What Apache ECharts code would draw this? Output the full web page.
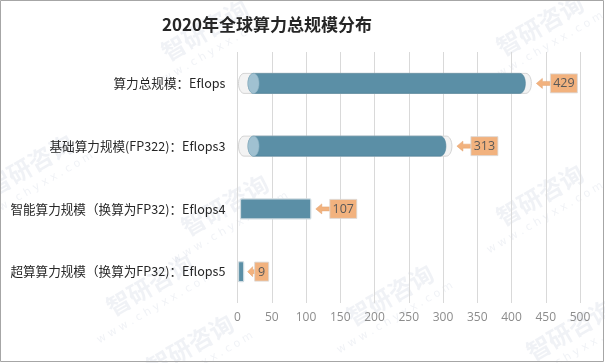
<!DOCTYPE html>
<html><head><meta charset="utf-8">
<script src="https://cdn.jsdelivr.net/npm/echarts@6/dist/echarts.min.js"></script>
<style>html,body{margin:0;padding:0;background:#fff}#c{width:605px;height:363px}</style>
</head><body><div id="c"></div>
<script>
const categories = ['算力总规模：Eflops', '基础算力规模(FP322)：Eflops3', '智能算力规模（换算为FP32)：Eflops4', '超算算力规模（换算为FP32)：Eflops5'];
const values = [429, 313, 107, 9];
const cylinderFlags = [true, true, false, false];
const xTicks = { min: 0, max: 500, interval: 50 };

function ellPts(cx, cy, rx, ry, a0, a1, n) {
  const pts = [];
  for (let i = 0; i <= n; i++) {
    const a = a0 + (a1 - a0) * i / n;
    pts.push([cx + rx * Math.cos(a), cy + ry * Math.sin(a)]);
  }
  return pts;
}
function cylPts(xa, xb, cy, rx, ry) {
  let pts = [];
  pts = pts.concat(ellPts(xb, cy, rx, ry, -Math.PI / 2, Math.PI / 2, 16));
  pts = pts.concat(ellPts(xa, cy, rx, ry, Math.PI / 2, Math.PI * 1.5, 16));
  return pts;
}

function renderItem(params, api) {
  const idx = api.value(0);
  const val = api.value(1);
  const p0 = api.coord([0, idx]);
  const p1 = api.coord([val, idx]);
  const x0 = p0[0], x1 = p1[0], cy = p0[1];
  const h = 20, ry = h / 2;
  const children = [];
  if (cylinderFlags[idx]) {
    const rx = 5.5;
    children.push({ type: 'polygon', shape: { points: cylPts(x0 + 1 + rx, x1 - rx, cy, rx, ry) },
      style: { fill: '#f3f3f3', stroke: '#d4d4d4', lineWidth: 1 } });
    const capX = x0 + 16;
    children.push({ type: 'polygon', shape: { points: cylPts(capX, x1 - 6 - rx, cy, rx, ry) },
      style: { fill: '#5b8fa6', stroke: '#4f8299', lineWidth: 0.6 } });
    children.push({ type: 'polygon', shape: { points: ellPts(capX, cy, rx, ry, 0, Math.PI * 2, 32) },
      style: { fill: '#a0c1d1', stroke: '#8fb3c4', lineWidth: 0.6 } });
  } else {
    children.push({ type: 'rect', shape: { x: x0 + (idx === 2 ? 3 : 1), y: cy - ry, width: x1 - x0 - (idx === 2 ? 3 : 1), height: h, r: 1 },
      style: { fill: '#5b8fa6', stroke: '#cfdbe1', lineWidth: 1.2 } });
  }
  const txt = String(val);
  const boxW = txt.length * 6.5 + 7.5;
  const arrowLen = Math.round(boxW * 0.52);
  const tip = x1 + (txt.length > 1 ? 5 : 4);
  const bx = tip + arrowLen;
  const headL = Math.min(6, arrowLen - 2);
  children.push({ type: 'polygon', shape: { points: [
      [tip, cy], [tip + headL, cy - 5], [tip + headL, cy - 2], [bx, cy - 2], [bx, cy + 2], [tip + headL, cy + 2], [tip + headL, cy + 5]] },
    style: { fill: '#f2b27e', stroke: '#e3a06c', lineWidth: 0.5 } });
  children.push({ type: 'rect', shape: { x: bx, y: cy - 9.5, width: boxW, height: 19 },
    style: { fill: '#f2b27e', stroke: '#d9d9d9', lineWidth: 0.8 } });
  children.push({ type: 'text', style: { x: bx + boxW / 2, y: cy + 0.5, text: txt, fill: '#595959',
    font: '12.5px "Open Sans", "Noto Sans", sans-serif', align: 'center', verticalAlign: 'middle' } });
  return { type: 'group', children };
}

const wm = [];
const wmPos = [[205, 30], [540, 25], [30, 165], [225, 205], [540, 195], [150, 285], [390, 295], [190, 345], [570, 330]];
wmPos.forEach(p => {
  wm.push({ type: 'text', x: p[0], y: p[1], rotation: Math.PI / 6, z: 0, silent: true,
    style: { text: '智研咨询', fill: 'rgba(120,140,170,0.11)', font: 'bold 24px "Noto Sans CJK SC"', align: 'center', verticalAlign: 'middle' } });
  wm.push({ type: 'text', x: p[0] + 5, y: p[1] + 23, rotation: Math.PI / 6, z: 0, silent: true,
    style: { text: 'w w w . c h y x x . c o m', fill: 'rgba(120,140,170,0.11)', font: '11px "DejaVu Sans"', align: 'center', verticalAlign: 'middle' } });
});
wm.push({ type: 'rect', shape: { x: 0.5, y: 0.5, width: 603, height: 361 }, style: { fill: 'none', stroke: '#a6a6a6', lineWidth: 1 }, z: 10, silent: true });

const chart = echarts.init(document.getElementById('c'), null, { renderer: 'canvas' });
chart.setOption({
  animation: false,
  backgroundColor: '#fff',
  title: { text: '2020年全球算力总规模分布', left: 157, top: 11,
    textStyle: { fontFamily: '"Noto Sans CJK SC"', fontWeight: 'bold', fontSize: 17, color: '#262626' } },
  grid: { left: 237.5, right: 25, top: 52, bottom: 60, containLabel: false },
  xAxis: { type: 'value', min: xTicks.min, max: xTicks.max, interval: xTicks.interval,
    axisLine: { show: false }, axisTick: { show: false },
    splitLine: { lineStyle: { color: '#d9d9d9', width: 1 } },
    axisLabel: { color: '#8c8c8c', fontSize: 12, margin: 9, fontFamily: '"Open Sans", sans-serif' } },
  yAxis: { type: 'category', data: categories, inverse: true,
    axisLine: { show: false }, axisTick: { show: false },
    axisLabel: { color: '#262626', fontSize: 12.6, margin: 12, fontFamily: '"Noto Sans CJK SC"' } },
  graphic: wm,
  series: [{ type: 'custom', renderItem, encode: { x: 1, y: 0 },
    data: values.map((v, i) => [i, v]), z: 5 }]
});
</script></body></html>
